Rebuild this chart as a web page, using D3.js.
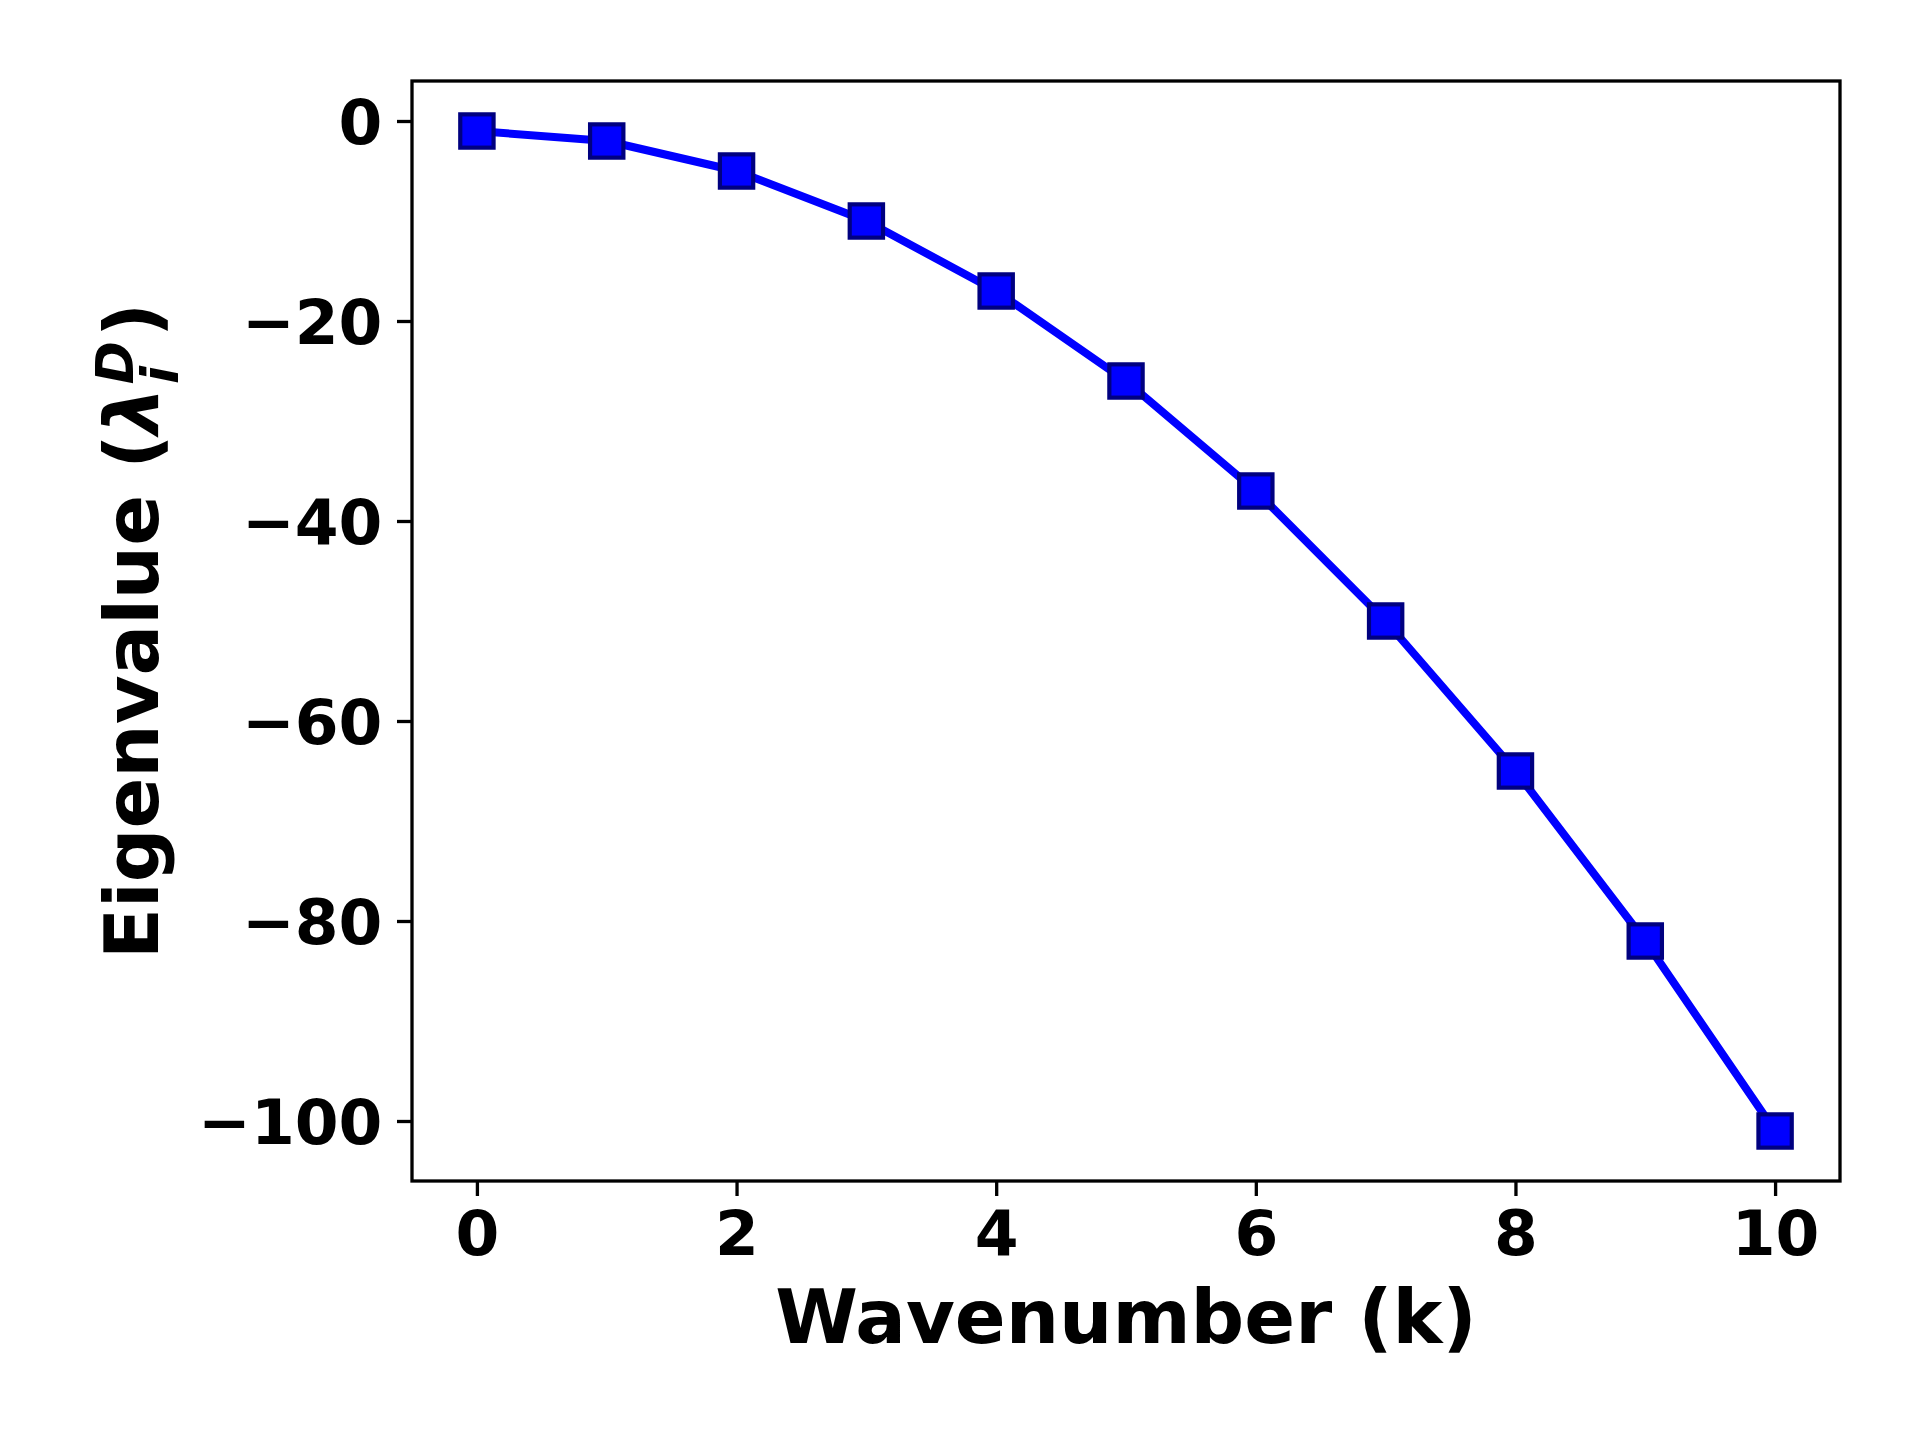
<!DOCTYPE html>
<html>
<head>
<meta charset="utf-8">
<script src="https://cdn.jsdelivr.net/npm/d3@7"></script>
<style>
  body { margin: 0; background: #fff; }
  text { font-family: "DejaVu Sans", sans-serif; font-weight: bold; }
</style>
</head>
<body>
<div id="chart"></div>
<script>
// data
const wavenumbers = [0, 1, 2, 3, 4, 5, 6, 7, 8, 9, 10];
const eigenvalues = [-1, -2, -5, -10, -17, -26, -37, -50, -65, -82, -101];
const xTicks = [0, 2, 4, 6, 8, 10];
const yTicks = [0, -20, -40, -60, -80, -100];

const W = 1920, H = 1440;
const plot = { left: 412, right: 1840, top: 81, bottom: 1181 };

const svg = d3.select("#chart").append("svg")
    .attr("width", W)
    .attr("height", H);

let x = d3.scaleLinear().domain([-0.5, 10.5]).range([plot.left, plot.right]);
let y = d3.scaleLinear().domain([4, -106]).range([plot.top, plot.bottom]);

let fmt = d => (d < 0 ? "\u2212" + Math.abs(d) : String(d));

// line
let line = d3.line()
    .x((d, i) => x(wavenumbers[i]))
    .y(d => y(d));

svg.append("path")
    .datum(eigenvalues)
    .attr("d", line)
    .attr("fill", "none")
    .attr("stroke", "#0000ff")
    .attr("stroke-width", 8)
    .attr("stroke-linejoin", "round");

// square markers
const ms = 33.3;
svg.selectAll(".mark")
    .data(eigenvalues)
    .enter()
    .append("rect")
    .attr("class", "mark")
    .attr("x", (d, i) => x(wavenumbers[i]) - ms / 2)
    .attr("y", d => y(d) - ms / 2)
    .attr("width", ms)
    .attr("height", ms)
    .attr("fill", "#0000ff")
    .attr("stroke", "#000080")
    .attr("stroke-width", 4.2);

// axes
let xAxis = svg.append("g")
    .attr("transform", `translate(0,${plot.bottom})`)
    .call(d3.axisBottom(x).tickValues(xTicks).tickFormat(fmt).tickSize(15).tickPadding(14.6));

let yAxis = svg.append("g")
    .attr("transform", `translate(${plot.left},0)`)
    .call(d3.axisLeft(y).tickValues(yTicks).tickFormat(fmt).tickSize(15).tickPadding(14.6));

[xAxis, yAxis].forEach(a => {
    a.select(".domain").remove();
    a.selectAll(".tick line").attr("stroke", "#000").attr("stroke-width", 3.3);
    a.selectAll(".tick text")
        .attr("fill", "#000")
        .style("font-size", "63px")
        .style("font-family", "'DejaVu Sans', sans-serif")
        .style("font-weight", "bold");
});
yAxis.selectAll(".tick text").attr("dy", "0.36em");

// frame
svg.append("rect")
    .attr("x", plot.left)
    .attr("y", plot.top)
    .attr("width", plot.right - plot.left)
    .attr("height", plot.bottom - plot.top)
    .attr("fill", "none")
    .attr("stroke", "#000")
    .attr("stroke-width", 3.3);

// axis labels
svg.append("text")
    .attr("x", (plot.left + plot.right) / 2)
    .attr("y", 1343)
    .attr("text-anchor", "middle")
    .style("font-size", "75px")
    .text("Wavenumber (k)");

let ylab = svg.append("text")
    .attr("transform", `translate(158,${(plot.top + plot.bottom) / 2}) rotate(-90)`)
    .attr("text-anchor", "middle")
    .style("font-size", "75px");
ylab.append("tspan").text("Eigenvalue (");
ylab.append("tspan").style("font-style", "italic").text("\u03bb");
ylab.append("tspan").style("font-style", "italic").style("font-size", "52px")
    .attr("dx", 3).attr("dy", 20).text("i");
ylab.append("tspan").style("font-style", "italic").style("font-size", "52px")
    .attr("dx", -18).attr("dy", -45).text("D");
ylab.append("tspan").attr("dx", 4).attr("dy", 25).text(")");
</script>
</body>
</html>
